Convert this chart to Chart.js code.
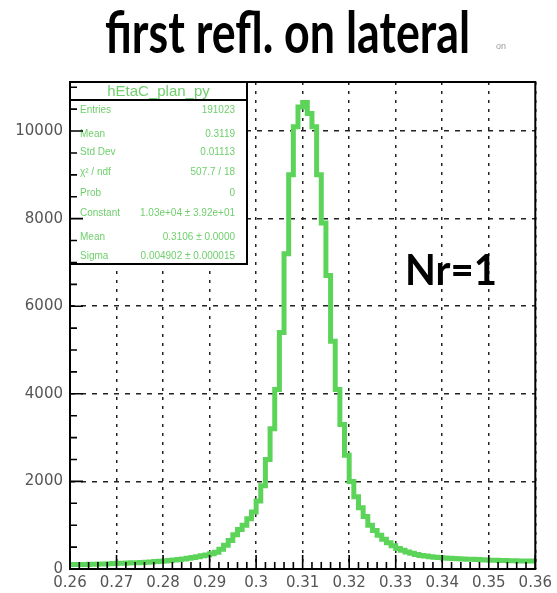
<!DOCTYPE html>
<html>
<head>
<meta charset="utf-8">
<script src="https://cdn.jsdelivr.net/npm/chart.js@4.4.1/dist/chart.umd.min.js"></script>
<style>
  html, body { margin: 0; padding: 0; background: #ffffff; }
  #wrap { width: 557px; height: 593px; }
</style>
</head>
<body>
<div id="wrap"><canvas id="histo" width="557" height="593"></canvas></div>
<script>
// Histograma: bordes de bin y cuentas
const xMin = 0.26;
const xMax = 0.36;
const binWidth = 0.001;
const counts = [
  100, 100, 105, 105, 110, 110, 115, 115, 120, 125,
  130, 130, 135, 140, 145, 150, 155, 160, 170, 175,
  185, 195, 205, 215, 230, 245, 260, 280, 300, 320,
  350, 380, 450, 540, 650, 780, 900, 1000, 1150, 1300,
  1550, 1900, 2500, 3200, 4100, 5400, 7200, 9000, 10100, 10550,
  10650, 10400, 10100, 9000, 7900, 6700, 5200, 4100, 3300, 2600,
  2000, 1650, 1400, 1200, 1000, 880, 770, 680, 600, 530,
  470, 430, 390, 360, 330, 310, 295, 280, 270, 260,
  250, 245, 240, 235, 230, 225, 220, 215, 210, 205,
  200, 200, 195, 195, 190, 190, 185, 185, 180, 180
];
const xTickLabels = ["0.26", "0.27", "0.28", "0.29", "0.3", "0.31", "0.32", "0.33", "0.34", "0.35", "0.36"];
const yTickLabels = ["0", "2000", "4000", "6000", "8000", "10000"];
const yMax = 11120;

// Caja de estadisticas
const statsTitle = "hEtaC_plan_py";
const statsNames = ["Entries", "Mean", "Std Dev", "\u03C7\u00B2 / ndf", "Prob", "Constant", "Mean", "Sigma"];
const statsValues = ["191023", "0.3119", "0.01113", "507.7 / 18", "0", "1.03e+04 \u00B1 3.92e+01", "0.3106 \u00B1 0.0000", "0.004902 \u00B1 0.000015"];

const titleText = "first refl. on lateral";
const labelText = "Nr=1";

const green = "#5cd45a";

// Puntos en el borde inferior de cada bin + punto final en xMax
const puntos = counts.map((c, i) => ({ x: xMin + i * binWidth, y: c }));
puntos.push({ x: xMax, y: counts[counts.length - 1] });

// Texto ajustado a un ancho dado (escala horizontal)
function fitText(ctx, text, x, y, width, font, color) {
  ctx.save();
  ctx.font = font;
  const w = ctx.measureText(text).width;
  ctx.translate(x, y);
  ctx.scale(width / w, 1);
  ctx.fillStyle = color;
  ctx.textAlign = "left";
  ctx.textBaseline = "alphabetic";
  ctx.fillText(text, 0, 0);
  ctx.restore();
}

const decoracion = {
  id: "decoracion",
  afterDatasetsDraw(chart) {
    const ctx = chart.ctx;
    const a = chart.chartArea;
    const xs = chart.scales.x;
    const ys = chart.scales.y;

    // Caja de estadisticas
    const bx = a.left, by = a.top, bw = 177, bh = 182;
    ctx.save();
    ctx.fillStyle = "#ffffff";
    ctx.fillRect(bx, by, bw, bh);
    ctx.strokeStyle = "#000000";
    ctx.lineWidth = 2;
    ctx.strokeRect(bx, by, bw, bh);
    ctx.beginPath();
    ctx.moveTo(bx, by + 18);
    ctx.lineTo(bx + bw, by + 18);
    ctx.stroke();
    ctx.fillStyle = "#6fcf6c";
    ctx.font = "15px 'Liberation Sans'";
    ctx.textAlign = "center";
    ctx.textBaseline = "middle";
    ctx.fillText(statsTitle, bx + bw / 2, by + 10);
    ctx.font = "10px 'Liberation Sans'";
    const rowY = [110, 134, 152, 172, 193, 213, 237, 256];
    statsNames.forEach((n, i) => {
      ctx.textAlign = "left";
      ctx.fillText(n, bx + 10, rowY[i]);
      ctx.textAlign = "right";
      ctx.fillText(statsValues[i], bx + bw - 12, rowY[i]);
    });
    ctx.restore();

    // Marco
    ctx.save();
    ctx.strokeStyle = "#000000";
    ctx.lineWidth = 2;
    ctx.strokeRect(a.left, a.top, a.right - a.left, a.bottom - a.top);

    // Ticks hacia dentro, eje Y
    ctx.lineWidth = 1.6;
    ctx.beginPath();
    for (let v = 0; v <= yMax; v += 500) {
      const py = ys.getPixelForValue(v);
      const len = v % 2000 === 0 ? 13 : 7;
      ctx.moveTo(a.left, py);
      ctx.lineTo(a.left + len, py);
    }
    // Ticks hacia dentro, eje X
    for (let k = 0; k <= 50; k++) {
      const px = xs.getPixelForValue(xMin + k * 0.002);
      const len = k % 5 === 0 ? 14 : 7;
      ctx.moveTo(px, a.bottom);
      ctx.lineTo(px, a.bottom - len);
    }
    ctx.stroke();
    ctx.restore();

    // Textos
    fitText(ctx, titleText, 105, 53, 365, "bold 58px Lato", "#000000");
    fitText(ctx, labelText, 405, 285, 92, "bold 42px Lato", "#000000");
    ctx.save();
    ctx.fillStyle = "#999999";
    ctx.font = "9px 'Liberation Sans'";
    ctx.fillText("on", 496, 49);
    ctx.restore();
  }
};

const config = {
  type: "line",
  data: {
    datasets: [{
      data: puntos,
      borderColor: green,
      borderWidth: 5,
      pointRadius: 0,
      stepped: true,
      fill: false
    }]
  },
  options: {
    responsive: false,
    animation: false,
    layout: { padding: { top: 82, right: 17, bottom: 0, left: 0 } },
    plugins: {
      legend: { display: false },
      tooltip: { enabled: false },
      title: { display: false }
    },
    scales: {
      x: {
        type: "linear",
        min: xMin,
        max: xMax,
        afterFit: s => { s.height = 24; },
        afterBuildTicks: s => { s.ticks = xTickLabels.map(l => ({ value: parseFloat(l) })); },
        ticks: {
          autoSkip: false,
          maxRotation: 0,
          padding: 5,
          color: "#555555",
          font: { family: "DejaVu Sans", size: 15 },
          callback: (v, i) => xTickLabels[i]
        },
        grid: { color: "#222222", lineWidth: 1.5, drawTicks: false },
        border: { display: false, dash: [3, 6] }
      },
      y: {
        min: 0,
        max: yMax,
        afterFit: s => { s.width = 70; },
        afterBuildTicks: s => { s.ticks = yTickLabels.map(l => ({ value: parseFloat(l) })); },
        ticks: {
          autoSkip: false,
          padding: 7,
          color: "#555555",
          font: { family: "DejaVu Sans", size: 15 },
          callback: (v, i) => yTickLabels[i]
        },
        grid: { color: "#222222", lineWidth: 1.5, drawTicks: false },
        border: { display: false, dash: [5, 6] }
      }
    }
  },
  plugins: [decoracion]
};

new Chart(document.getElementById("histo").getContext("2d"), config);
</script>
</body>
</html>
